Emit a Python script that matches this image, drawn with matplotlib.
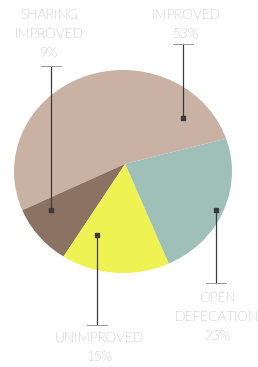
import matplotlib.pyplot as plt
from matplotlib.patches import Ellipse

# slice data (counter-clockwise from the right edge of IMPROVED)
labels = ['IMPROVED', 'SHARING\nIMPROVED', 'UNIMPROVED', 'OPEN\nDEFECATION']
values = [53, 9, 15, 23]
colors = ['#c9b2a4', '#8c7262', '#eff253', '#9fbfb9']

# label layout in pixels: text centre x, text top y, dot x, dot y, tick y
text_xy = [(186, 9), (49, 9), (99, 332), (217, 292)]
dot_xy = [(183, 118), (51, 210), (97, 235), (216, 210)]
tick_y = [44, 66, 325, 283]

W, H = 258, 367
fig = plt.figure(figsize=(W / 100, H / 100), dpi=100)

# pie seen a little in perspective: apex above the middle, clipped to the disc
pax = fig.add_axes([14 / W, (H - 273) / H, 218 / W, 203 / H])
wedges, _ = pax.pie(values, colors=colors, startangle=15, counterclock=True,
                    radius=1.4, center=(0.02, 0.075),
                    wedgeprops=dict(linewidth=0))
disc = Ellipse((0, 0), 2, 2, transform=pax.transData, facecolor='none',
               edgecolor='none')
pax.add_patch(disc)
for w in wedges:
    w.set_clip_on(True)
    w.set_clip_path(disc)
pax.set_aspect('auto')
pax.set_xlim(-1, 1)
pax.set_ylim(-1, 1)
pax.axis('off')

# overlay in pixel coordinates for labels and leaders
ax = fig.add_axes([0, 0, 1, 1], facecolor='none')
ax.set_xlim(0, W)
ax.set_ylim(H, 0)
ax.axis('off')

for i in range(len(labels)):
    tx, ty = text_xy[i]
    dx, dy = dot_xy[i]
    ax.text(tx, ty, f'{labels[i]}\n{values[i]}%', ha='center', va='top',
            fontsize=9.8, color='#636363', family=['Lato', 'DejaVu Sans'],
            fontweight='light', linespacing=1.6)
    ax.plot([dx, dx], [tick_y[i], dy], color='#3a3a3a', lw=0.9)
    ax.plot([dx - 10, dx + 10], [tick_y[i], tick_y[i]], color='#9a9a9a', lw=0.7)
    ax.plot(dx, dy, 's', color='#3a3a3a', ms=2.2)

fig.savefig('out.png', dpi=100)
